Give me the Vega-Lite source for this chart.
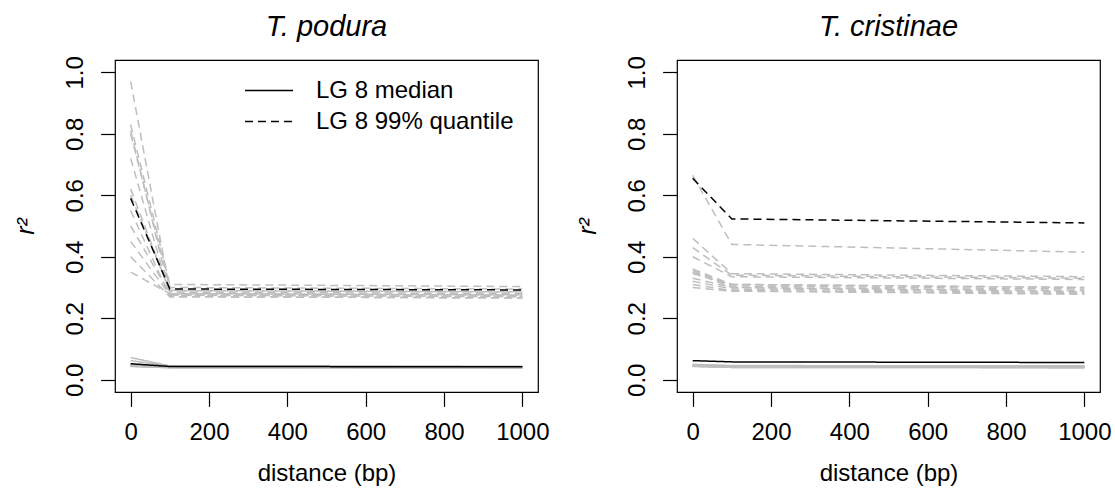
{
  "$schema": "https://vega.github.io/schema/vega-lite/v6.json",
  "padding": {"left": 12, "top": 12, "right": 5, "bottom": 5},
  "background": "white",
  "bounds": "flush",
  "spacing": 139,
  "config": {
    "font": "Liberation Sans",
    "view": {"stroke": "black", "strokeWidth": 1.2},
    "axis": {
      "domain": false, "grid": false, "tickColor": "black", "tickWidth": 1.2, "tickSize": 14.4,
      "labelFontSize": 24, "labelColor": "black", "titleFontSize": 24, "titleFontWeight": "normal", "titleColor": "black"
    },
    "title": {"fontSize": 29, "fontWeight": "normal", "fontStyle": "italic", "color": "black", "anchor": "middle"},
    "line": {"strokeWidth": 1.5}
  },
  "resolve": {"scale": {"x": "independent", "y": "independent", "strokeDash": "independent"}, "legend": {"strokeDash": "independent"}},
  "datasets": {
    "ld": [
      {"p":"podura","lg":"8","stat":"99% quantile","d":0,"r2":0.59},{"p":"podura","lg":"8","stat":"99% quantile","d":100,"r2":0.295},{"p":"podura","lg":"8","stat":"99% quantile","d":1000,"r2":0.292},
      {"p":"podura","lg":"8","stat":"median","d":0,"r2":0.052},{"p":"podura","lg":"8","stat":"median","d":100,"r2":0.043},{"p":"podura","lg":"8","stat":"median","d":1000,"r2":0.042},
      {"p":"podura","lg":"1","stat":"99% quantile","d":0,"r2":0.97},{"p":"podura","lg":"1","stat":"99% quantile","d":100,"r2":0.29},{"p":"podura","lg":"1","stat":"99% quantile","d":1000,"r2":0.285},
      {"p":"podura","lg":"2","stat":"99% quantile","d":0,"r2":0.83},{"p":"podura","lg":"2","stat":"99% quantile","d":100,"r2":0.31},{"p":"podura","lg":"2","stat":"99% quantile","d":1000,"r2":0.303},
      {"p":"podura","lg":"3","stat":"99% quantile","d":0,"r2":0.81},{"p":"podura","lg":"3","stat":"99% quantile","d":100,"r2":0.28},{"p":"podura","lg":"3","stat":"99% quantile","d":1000,"r2":0.275},
      {"p":"podura","lg":"4","stat":"99% quantile","d":0,"r2":0.8},{"p":"podura","lg":"4","stat":"99% quantile","d":100,"r2":0.3},{"p":"podura","lg":"4","stat":"99% quantile","d":1000,"r2":0.295},
      {"p":"podura","lg":"5","stat":"99% quantile","d":0,"r2":0.72},{"p":"podura","lg":"5","stat":"99% quantile","d":100,"r2":0.275},{"p":"podura","lg":"5","stat":"99% quantile","d":1000,"r2":0.27},
      {"p":"podura","lg":"6","stat":"99% quantile","d":0,"r2":0.62},{"p":"podura","lg":"6","stat":"99% quantile","d":100,"r2":0.285},{"p":"podura","lg":"6","stat":"99% quantile","d":1000,"r2":0.28},
      {"p":"podura","lg":"7","stat":"99% quantile","d":0,"r2":0.55},{"p":"podura","lg":"7","stat":"99% quantile","d":100,"r2":0.27},{"p":"podura","lg":"7","stat":"99% quantile","d":1000,"r2":0.266},
      {"p":"podura","lg":"9","stat":"99% quantile","d":0,"r2":0.5},{"p":"podura","lg":"9","stat":"99% quantile","d":100,"r2":0.28},{"p":"podura","lg":"9","stat":"99% quantile","d":1000,"r2":0.275},
      {"p":"podura","lg":"10","stat":"99% quantile","d":0,"r2":0.45},{"p":"podura","lg":"10","stat":"99% quantile","d":100,"r2":0.275},{"p":"podura","lg":"10","stat":"99% quantile","d":1000,"r2":0.27},
      {"p":"podura","lg":"11","stat":"99% quantile","d":0,"r2":0.4},{"p":"podura","lg":"11","stat":"99% quantile","d":100,"r2":0.27},{"p":"podura","lg":"11","stat":"99% quantile","d":1000,"r2":0.266},
      {"p":"podura","lg":"12","stat":"99% quantile","d":0,"r2":0.35},{"p":"podura","lg":"12","stat":"99% quantile","d":100,"r2":0.28},{"p":"podura","lg":"12","stat":"99% quantile","d":1000,"r2":0.276},
      {"p":"podura","lg":"13","stat":"99% quantile","d":0,"r2":0.6},{"p":"podura","lg":"13","stat":"99% quantile","d":100,"r2":0.29},{"p":"podura","lg":"13","stat":"99% quantile","d":1000,"r2":0.286},
      {"p":"podura","lg":"1","stat":"median","d":0,"r2":0.072},{"p":"podura","lg":"1","stat":"median","d":100,"r2":0.045},{"p":"podura","lg":"1","stat":"median","d":1000,"r2":0.044},
      {"p":"podura","lg":"2","stat":"median","d":0,"r2":0.062},{"p":"podura","lg":"2","stat":"median","d":100,"r2":0.044},{"p":"podura","lg":"2","stat":"median","d":1000,"r2":0.043},
      {"p":"podura","lg":"3","stat":"median","d":0,"r2":0.05},{"p":"podura","lg":"3","stat":"median","d":100,"r2":0.043},{"p":"podura","lg":"3","stat":"median","d":1000,"r2":0.042},
      {"p":"podura","lg":"4","stat":"median","d":0,"r2":0.048},{"p":"podura","lg":"4","stat":"median","d":100,"r2":0.042},{"p":"podura","lg":"4","stat":"median","d":1000,"r2":0.041},
      {"p":"podura","lg":"5","stat":"median","d":0,"r2":0.047},{"p":"podura","lg":"5","stat":"median","d":100,"r2":0.041},{"p":"podura","lg":"5","stat":"median","d":1000,"r2":0.04},
      {"p":"podura","lg":"6","stat":"median","d":0,"r2":0.046},{"p":"podura","lg":"6","stat":"median","d":100,"r2":0.04},{"p":"podura","lg":"6","stat":"median","d":1000,"r2":0.04},
      {"p":"podura","lg":"7","stat":"median","d":0,"r2":0.045},{"p":"podura","lg":"7","stat":"median","d":100,"r2":0.04},{"p":"podura","lg":"7","stat":"median","d":1000,"r2":0.039},
      {"p":"podura","lg":"9","stat":"median","d":0,"r2":0.044},{"p":"podura","lg":"9","stat":"median","d":100,"r2":0.039},{"p":"podura","lg":"9","stat":"median","d":1000,"r2":0.039},
      {"p":"podura","lg":"10","stat":"median","d":0,"r2":0.043},{"p":"podura","lg":"10","stat":"median","d":100,"r2":0.039},{"p":"podura","lg":"10","stat":"median","d":1000,"r2":0.038},
      {"p":"podura","lg":"11","stat":"median","d":0,"r2":0.045},{"p":"podura","lg":"11","stat":"median","d":100,"r2":0.041},{"p":"podura","lg":"11","stat":"median","d":1000,"r2":0.04},
      {"p":"podura","lg":"12","stat":"median","d":0,"r2":0.047},{"p":"podura","lg":"12","stat":"median","d":100,"r2":0.042},{"p":"podura","lg":"12","stat":"median","d":1000,"r2":0.041},
      {"p":"podura","lg":"13","stat":"median","d":0,"r2":0.049},{"p":"podura","lg":"13","stat":"median","d":100,"r2":0.043},{"p":"podura","lg":"13","stat":"median","d":1000,"r2":0.042},

      {"p":"cristinae","lg":"8","stat":"99% quantile","d":0,"r2":0.655},{"p":"cristinae","lg":"8","stat":"99% quantile","d":100,"r2":0.523},{"p":"cristinae","lg":"8","stat":"99% quantile","d":1000,"r2":0.51},
      {"p":"cristinae","lg":"8","stat":"median","d":0,"r2":0.062},{"p":"cristinae","lg":"8","stat":"median","d":100,"r2":0.058},{"p":"cristinae","lg":"8","stat":"median","d":1000,"r2":0.056},
      {"p":"cristinae","lg":"1","stat":"99% quantile","d":0,"r2":0.665},{"p":"cristinae","lg":"1","stat":"99% quantile","d":100,"r2":0.44},{"p":"cristinae","lg":"1","stat":"99% quantile","d":1000,"r2":0.415},
      {"p":"cristinae","lg":"2","stat":"99% quantile","d":0,"r2":0.46},{"p":"cristinae","lg":"2","stat":"99% quantile","d":100,"r2":0.345},{"p":"cristinae","lg":"2","stat":"99% quantile","d":1000,"r2":0.335},
      {"p":"cristinae","lg":"3","stat":"99% quantile","d":0,"r2":0.43},{"p":"cristinae","lg":"3","stat":"99% quantile","d":100,"r2":0.34},{"p":"cristinae","lg":"3","stat":"99% quantile","d":1000,"r2":0.33},
      {"p":"cristinae","lg":"4","stat":"99% quantile","d":0,"r2":0.4},{"p":"cristinae","lg":"4","stat":"99% quantile","d":100,"r2":0.335},{"p":"cristinae","lg":"4","stat":"99% quantile","d":1000,"r2":0.326},
      {"p":"cristinae","lg":"5","stat":"99% quantile","d":0,"r2":0.36},{"p":"cristinae","lg":"5","stat":"99% quantile","d":100,"r2":0.31},{"p":"cristinae","lg":"5","stat":"99% quantile","d":1000,"r2":0.3},
      {"p":"cristinae","lg":"6","stat":"99% quantile","d":0,"r2":0.355},{"p":"cristinae","lg":"6","stat":"99% quantile","d":100,"r2":0.305},{"p":"cristinae","lg":"6","stat":"99% quantile","d":1000,"r2":0.295},
      {"p":"cristinae","lg":"7","stat":"99% quantile","d":0,"r2":0.35},{"p":"cristinae","lg":"7","stat":"99% quantile","d":100,"r2":0.3},{"p":"cristinae","lg":"7","stat":"99% quantile","d":1000,"r2":0.29},
      {"p":"cristinae","lg":"9","stat":"99% quantile","d":0,"r2":0.345},{"p":"cristinae","lg":"9","stat":"99% quantile","d":100,"r2":0.31},{"p":"cristinae","lg":"9","stat":"99% quantile","d":1000,"r2":0.3},
      {"p":"cristinae","lg":"10","stat":"99% quantile","d":0,"r2":0.33},{"p":"cristinae","lg":"10","stat":"99% quantile","d":100,"r2":0.3},{"p":"cristinae","lg":"10","stat":"99% quantile","d":1000,"r2":0.286},
      {"p":"cristinae","lg":"11","stat":"99% quantile","d":0,"r2":0.32},{"p":"cristinae","lg":"11","stat":"99% quantile","d":100,"r2":0.295},{"p":"cristinae","lg":"11","stat":"99% quantile","d":1000,"r2":0.284},
      {"p":"cristinae","lg":"12","stat":"99% quantile","d":0,"r2":0.31},{"p":"cristinae","lg":"12","stat":"99% quantile","d":100,"r2":0.29},{"p":"cristinae","lg":"12","stat":"99% quantile","d":1000,"r2":0.28},
      {"p":"cristinae","lg":"13","stat":"99% quantile","d":0,"r2":0.3},{"p":"cristinae","lg":"13","stat":"99% quantile","d":100,"r2":0.288},{"p":"cristinae","lg":"13","stat":"99% quantile","d":1000,"r2":0.278},
      {"p":"cristinae","lg":"1","stat":"median","d":0,"r2":0.05},{"p":"cristinae","lg":"1","stat":"median","d":100,"r2":0.046},{"p":"cristinae","lg":"1","stat":"median","d":1000,"r2":0.045},
      {"p":"cristinae","lg":"2","stat":"median","d":0,"r2":0.049},{"p":"cristinae","lg":"2","stat":"median","d":100,"r2":0.045},{"p":"cristinae","lg":"2","stat":"median","d":1000,"r2":0.044},
      {"p":"cristinae","lg":"3","stat":"median","d":0,"r2":0.048},{"p":"cristinae","lg":"3","stat":"median","d":100,"r2":0.044},{"p":"cristinae","lg":"3","stat":"median","d":1000,"r2":0.043},
      {"p":"cristinae","lg":"4","stat":"median","d":0,"r2":0.047},{"p":"cristinae","lg":"4","stat":"median","d":100,"r2":0.043},{"p":"cristinae","lg":"4","stat":"median","d":1000,"r2":0.042},
      {"p":"cristinae","lg":"5","stat":"median","d":0,"r2":0.046},{"p":"cristinae","lg":"5","stat":"median","d":100,"r2":0.042},{"p":"cristinae","lg":"5","stat":"median","d":1000,"r2":0.041},
      {"p":"cristinae","lg":"6","stat":"median","d":0,"r2":0.045},{"p":"cristinae","lg":"6","stat":"median","d":100,"r2":0.041},{"p":"cristinae","lg":"6","stat":"median","d":1000,"r2":0.04},
      {"p":"cristinae","lg":"7","stat":"median","d":0,"r2":0.044},{"p":"cristinae","lg":"7","stat":"median","d":100,"r2":0.04},{"p":"cristinae","lg":"7","stat":"median","d":1000,"r2":0.04},
      {"p":"cristinae","lg":"9","stat":"median","d":0,"r2":0.043},{"p":"cristinae","lg":"9","stat":"median","d":100,"r2":0.04},{"p":"cristinae","lg":"9","stat":"median","d":1000,"r2":0.039},
      {"p":"cristinae","lg":"10","stat":"median","d":0,"r2":0.046},{"p":"cristinae","lg":"10","stat":"median","d":100,"r2":0.042},{"p":"cristinae","lg":"10","stat":"median","d":1000,"r2":0.041},
      {"p":"cristinae","lg":"11","stat":"median","d":0,"r2":0.047},{"p":"cristinae","lg":"11","stat":"median","d":100,"r2":0.043},{"p":"cristinae","lg":"11","stat":"median","d":1000,"r2":0.042},
      {"p":"cristinae","lg":"12","stat":"median","d":0,"r2":0.044},{"p":"cristinae","lg":"12","stat":"median","d":100,"r2":0.041},{"p":"cristinae","lg":"12","stat":"median","d":1000,"r2":0.04},
      {"p":"cristinae","lg":"13","stat":"median","d":0,"r2":0.048},{"p":"cristinae","lg":"13","stat":"median","d":100,"r2":0.044},{"p":"cristinae","lg":"13","stat":"median","d":1000,"r2":0.043}
    ]
  },
  "hconcat": [
    {
      "title": {"text": "T. podura", "baseline": "alphabetic", "offset": -9, "frame": "group"},
      "width": 423, "height": 332,
      "data": {"name": "ld"},
      "transform": [{"filter": "datum.p === 'podura'"}],
      "encoding": {
        "x": {"field": "d", "type": "quantitative", "scale": {"domain": [-40, 1040], "nice": false, "zero": false},
              "axis": {"values": [0, 200, 400, 600, 800, 1000], "format": "d", "title": "distance (bp)", "labelPadding": 14, "titlePadding": 17}},
        "y": {"field": "r2", "type": "quantitative", "scale": {"domain": [-0.04, 1.04], "nice": false, "zero": false},
              "axis": {"values": [0, 0.2, 0.4, 0.6, 0.8, 1], "format": ".1f", "title": "r²", "titleFontStyle": "italic", "titleFontSize": 25,
                       "labelAngle": -90, "labelAlign": "center", "labelBaseline": "alphabetic", "labelPadding": 18, "titlePadding": 25}},
        "detail": {"field": "lg"},
        "strokeDash": {"field": "stat", "type": "nominal",
                       "scale": {"domain": ["median", "99% quantile"], "range": [[1, 0], [8, 5]]},
                       "legend": {"title": null, "orient": "none", "legendX": 129, "legendY": 15, "padding": 0,
                                  "symbolType": "stroke", "symbolSize": 2304, "symbolStrokeWidth": 2, "symbolStrokeColor": "black",
                                  "clipHeight": 31, "rowPadding": 0, "labelFontSize": 24, "labelColor": "black", "labelOffset": 22, "labelLimit": 0,
                                  "labelExpr": "'LG 8 ' + datum.label"}}
      },
      "layer": [
        {"transform": [{"filter": "datum.lg !== '8'"}], "mark": {"type": "line", "color": "#bebebe"}},
        {"transform": [{"filter": "datum.lg === '8'"}], "mark": {"type": "line", "color": "black"}}
      ]
    },
    {
      "title": {"text": "T. cristinae", "baseline": "alphabetic", "offset": -9, "frame": "group"},
      "width": 423, "height": 332,
      "data": {"name": "ld"},
      "transform": [{"filter": "datum.p === 'cristinae'"}],
      "encoding": {
        "x": {"field": "d", "type": "quantitative", "scale": {"domain": [-40, 1040], "nice": false, "zero": false},
              "axis": {"values": [0, 200, 400, 600, 800, 1000], "format": "d", "title": "distance (bp)", "labelPadding": 14, "titlePadding": 17}},
        "y": {"field": "r2", "type": "quantitative", "scale": {"domain": [-0.04, 1.04], "nice": false, "zero": false},
              "axis": {"values": [0, 0.2, 0.4, 0.6, 0.8, 1], "format": ".1f", "title": "r²", "titleFontStyle": "italic", "titleFontSize": 25,
                       "labelAngle": -90, "labelAlign": "center", "labelBaseline": "alphabetic", "labelPadding": 18, "titlePadding": 25}},
        "detail": {"field": "lg"},
        "strokeDash": {"field": "stat", "type": "nominal",
                       "scale": {"domain": ["median", "99% quantile"], "range": [[1, 0], [8, 5]]}, "legend": null}
      },
      "layer": [
        {"transform": [{"filter": "datum.lg !== '8'"}], "mark": {"type": "line", "color": "#bebebe"}},
        {"transform": [{"filter": "datum.lg === '8'"}], "mark": {"type": "line", "color": "black"}}
      ]
    }
  ]
}
